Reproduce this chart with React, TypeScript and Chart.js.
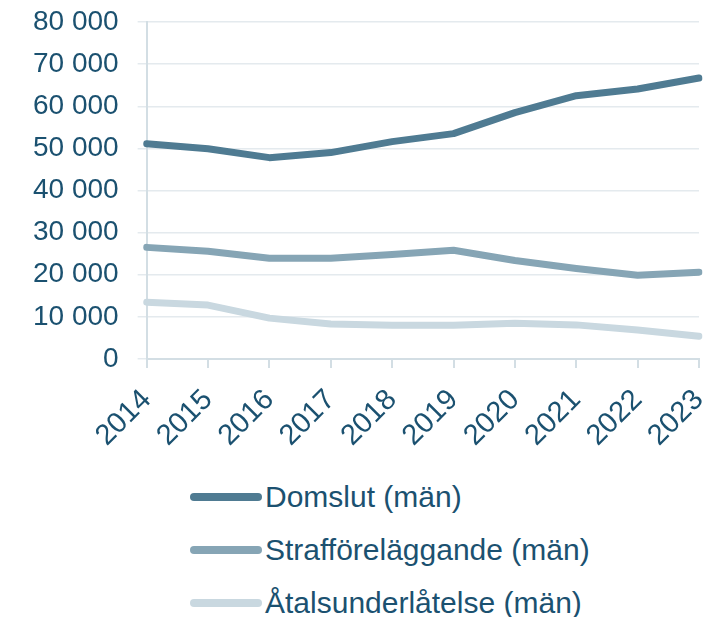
import React, { useEffect, useRef } from "react";
import { Chart, registerables } from "chart.js";

Chart.register(...registerables);

const years = ["2014", "2015", "2016", "2017", "2018", "2019", "2020", "2021", "2022", "2023"];
const domslut = [51100, 49900, 47800, 49000, 51600, 53500, 58500, 62500, 64100, 66700];
const straff = [26500, 25600, 23900, 23900, 24800, 25800, 23400, 21500, 19900, 20600];
const atal = [13500, 12800, 9700, 8300, 8000, 8000, 8500, 8100, 6900, 5400];
const seriesNames = ["Domslut (män)", "Strafföreläggande (män)", "Åtalsunderlåtelse (män)"];
const seriesColors = ["#4f7b92", "#86a5b5", "#c9d8e0"];

const textColor = "#1b5170";
const font = "'Liberation Sans', Arial, sans-serif";

export default function App() {
  const ref = useRef<HTMLCanvasElement>(null);
  useEffect(() => {
    if (!ref.current) return;
    const chart = new Chart(ref.current, {
      type: "line",
      data: {
        labels: years,
        datasets: [domslut, straff, atal].map((d, i) => ({
          label: seriesNames[i],
          data: d,
          borderColor: seriesColors[i],
          backgroundColor: seriesColors[i],
          borderWidth: 7,
          pointRadius: 0,
          tension: 0,
          borderCapStyle: "round" as const,
          borderJoinStyle: "round" as const,
        })),
      },
      options: {
        responsive: false,
        animation: false,
        layout: { padding: { top: 0, right: 18, left: 6, bottom: 0 } },
        plugins: { legend: { display: false }, tooltip: { enabled: false } },
        scales: {
          x: {
            offset: false,
            afterFit: (s: any) => {
              s.height = 105;
              s.paddingRight = 0;
              s.paddingLeft = 0;
            },
            grid: { display: true, drawOnChartArea: false, tickLength: 9, color: "#d3dee4", lineWidth: 2 },
            border: { display: true, color: "#d3dee4", width: 2 },
            ticks: {
              color: textColor,
              font: { family: font, size: 29 },
              maxRotation: 45,
              minRotation: 45,
              padding: 15,
              autoSkip: false,
            },
          },
          y: {
            min: 0,
            max: 80000,
            grid: { color: "#e4eaee", lineWidth: 1.5, tickLength: 9 },
            border: { display: true, color: "#d3dee4", width: 2 },
            ticks: {
              stepSize: 10000,
              color: textColor,
              font: { family: font, size: 28, lineHeight: 1 },
              padding: 19,
              callback: (v: any) => Number(v).toLocaleString("en-US").replace(/,/g, " "),
            },
          },
        },
      },
    });
    return () => chart.destroy();
  }, []);

  return (
    <div style={{ width: 709, fontFamily: font }}>
      <div style={{ position: "relative", height: 462 }}>
        <canvas ref={ref} width={709} height={475} style={{ display: "block", position: "absolute", left: 0, top: -19 }} />
      </div>
      <div style={{ display: "flex", flexDirection: "column", paddingLeft: 182, paddingBottom: 20 }}>
        {seriesNames.map((n, i) => (
          <div key={n} style={{ display: "flex", alignItems: "center", height: 53 }}>
            <div style={{ width: 72, height: 8, borderRadius: 4, background: seriesColors[i] }} />
            <span style={{ color: textColor, fontSize: 30, marginLeft: 3, lineHeight: 1 }}>{n}</span>
          </div>
        ))}
      </div>
    </div>
  );
}
